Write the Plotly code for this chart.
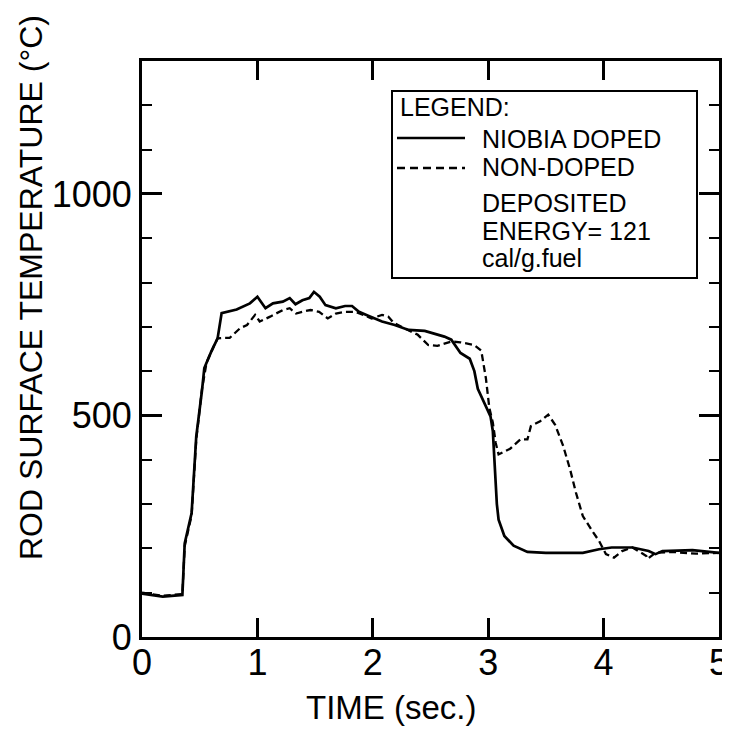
import plotly.graph_objects as go

# ---- data ----
t_doped = [0, 0.18, 0.35, 0.37, 0.43, 0.47, 0.52, 0.54, 0.60, 0.655, 0.69, 0.82, 0.935, 1.0,
           1.07, 1.135, 1.22, 1.28, 1.33, 1.39, 1.45, 1.49, 1.54, 1.59, 1.68, 1.76, 1.82, 1.88,
           1.96, 2.08, 2.19, 2.31, 2.45, 2.54, 2.62, 2.68, 2.76, 2.84, 2.88, 2.91, 2.98, 3.02,
           3.04, 3.05, 3.06, 3.075, 3.09, 3.14, 3.22, 3.34, 3.50, 3.62, 3.82, 3.96, 4.07, 4.25,
           4.39, 4.45, 4.51, 4.77, 5.0]
T_doped = [98, 91, 95, 211, 280, 452, 557, 607, 644, 674, 731, 739, 753, 768,
           742, 753, 757, 765, 751, 760, 765, 779, 768, 749, 742, 747, 747, 734,
           725, 712, 704, 693, 691, 684, 678, 671, 641, 628, 600, 560, 522, 498,
           465, 420, 360, 300, 265, 228, 206, 192, 190, 190, 190, 198, 202, 202,
           194, 187, 194, 196, 190]

t_nondoped = [0, 0.18, 0.35, 0.37, 0.43, 0.47, 0.52, 0.56, 0.62, 0.655, 0.70, 0.76, 0.85,
              0.91, 0.98, 1.02, 1.11, 1.16, 1.22, 1.28, 1.335, 1.39, 1.46, 1.535, 1.61, 1.68,
              1.76, 1.85, 1.91, 1.99, 2.08, 2.135, 2.18, 2.28, 2.39, 2.48, 2.56, 2.68, 2.76,
              2.88, 2.94, 2.98, 3.01, 3.04, 3.065, 3.09, 3.19, 3.28, 3.34, 3.37, 3.45, 3.52,
              3.58, 3.65, 3.71, 3.76, 3.82, 3.91, 3.96, 4.02, 4.09, 4.16, 4.25, 4.37, 4.38,
              4.45, 4.6, 4.8, 5.0]
T_nondoped = [100, 93, 97, 205, 275, 445, 560, 620, 655, 674, 675, 675, 697,
              704, 727, 712, 723, 730, 738, 742, 730, 734, 738, 734, 719, 730,
              734, 734, 727, 719, 727, 723, 709, 697, 682, 659, 657, 667, 665,
              659, 646, 584, 517, 484, 438, 412, 425, 446, 446, 476, 487, 502,
              479, 431, 378, 326, 273, 236, 217, 187, 179, 194, 202, 183, 176,
              190, 192, 188, 190]

x_ticks = [0, 1, 2, 3, 4, 5]
y_ticks = [0, 500, 1000]
series_names = ["NIOBIA DOPED", "NON-DOPED"]
legend_note = ["DEPOSITED", "ENERGY= 121", "cal/g.fuel"]

FONT = "Liberation Sans, Arial, sans-serif"

fig = go.Figure()
fig.add_trace(go.Scatter(x=t_nondoped, y=T_nondoped, mode="lines", name=series_names[1],
                         line=dict(color="black", width=2.3, dash="7px,4px"), showlegend=False))
fig.add_trace(go.Scatter(x=t_doped, y=T_doped, mode="lines", name=series_names[0],
                         line=dict(color="black", width=2.7), showlegend=False))

OFF = 8                      # page body margin in the browser
W, H = 730 - OFF, 731 - OFF
L, R, T, B = 134, 11, 53, 94
pw, ph = W - L - R, H - T - B

def px(x):                   # window pixel -> paper fraction
    return (x - OFF - L) / pw

def py(y):
    return (H - B - (y - OFF)) / ph

fig.update_layout(
    template="none",
    width=W, height=H,
    margin=dict(l=L, r=R, t=T, b=B, pad=0),
    paper_bgcolor="white", plot_bgcolor="white",
    font=dict(family=FONT, color="black"),
    showlegend=False,
    xaxis=dict(range=[0, 5], tickvals=x_ticks, ticktext=[str(v) for v in x_ticks],
               ticks="inside", ticklen=19, tickwidth=3, tickcolor="black",
               showline=True, linewidth=3, linecolor="black", mirror="ticks",
               showgrid=False, zeroline=False, automargin=False,
               ticklabelstandoff=-8,
               tickfont=dict(size=36, family=FONT)),
    yaxis=dict(range=[0, 1300], tickvals=y_ticks, ticktext=[str(v) for v in y_ticks],
               ticks="inside", ticklen=20, tickwidth=3, tickcolor="black",
               showline=True, linewidth=3, linecolor="black", mirror="ticks",
               showgrid=False, zeroline=False, automargin=False,
               tickfont=dict(size=36, family=FONT),
               minor=dict(dtick=100, tick0=0, ticks="inside", ticklen=10, tickwidth=2,
                          tickcolor="black", showgrid=False)),
)

# axis titles
fig.add_annotation(text="TIME (sec.)", xref="paper", yref="paper", x=px(391), y=py(707),
                   showarrow=False, font=dict(size=33, family=FONT), xanchor="center", yanchor="middle")
fig.add_annotation(text="ROD SURFACE TEMPERATURE (°C)", xref="paper", yref="paper",
                   x=px(31), y=py(288), textangle=-90, showarrow=False,
                   font=dict(size=32, family=FONT), xanchor="center", yanchor="middle")

# legend box
fig.add_shape(type="rect", xref="paper", yref="paper", x0=px(392), x1=px(697), y0=py(91), y1=py(278),
              line=dict(color="black", width=2), fillcolor="white", layer="above")
fig.add_shape(type="line", xref="paper", yref="paper", x0=px(397), x1=px(465), y0=py(138), y1=py(138),
              line=dict(color="black", width=2.7))
fig.add_shape(type="line", xref="paper", yref="paper", x0=px(397), x1=px(465), y0=py(168), y1=py(168),
              line=dict(color="black", width=2.3, dash="8px,5px"))
legend_rows = [("LEGEND:", 398, 107), (series_names[0], 480, 139), (series_names[1], 480, 167),
               (legend_note[0], 480, 203), (legend_note[1], 480, 231), (legend_note[2], 480, 258)]
for txt, lx, ly in legend_rows:
    fig.add_annotation(text=txt, xref="paper", yref="paper", x=px(lx), y=py(ly), showarrow=False,
                       xanchor="left", yanchor="middle", font=dict(size=25, family=FONT))

fig.write_html("out.html")
